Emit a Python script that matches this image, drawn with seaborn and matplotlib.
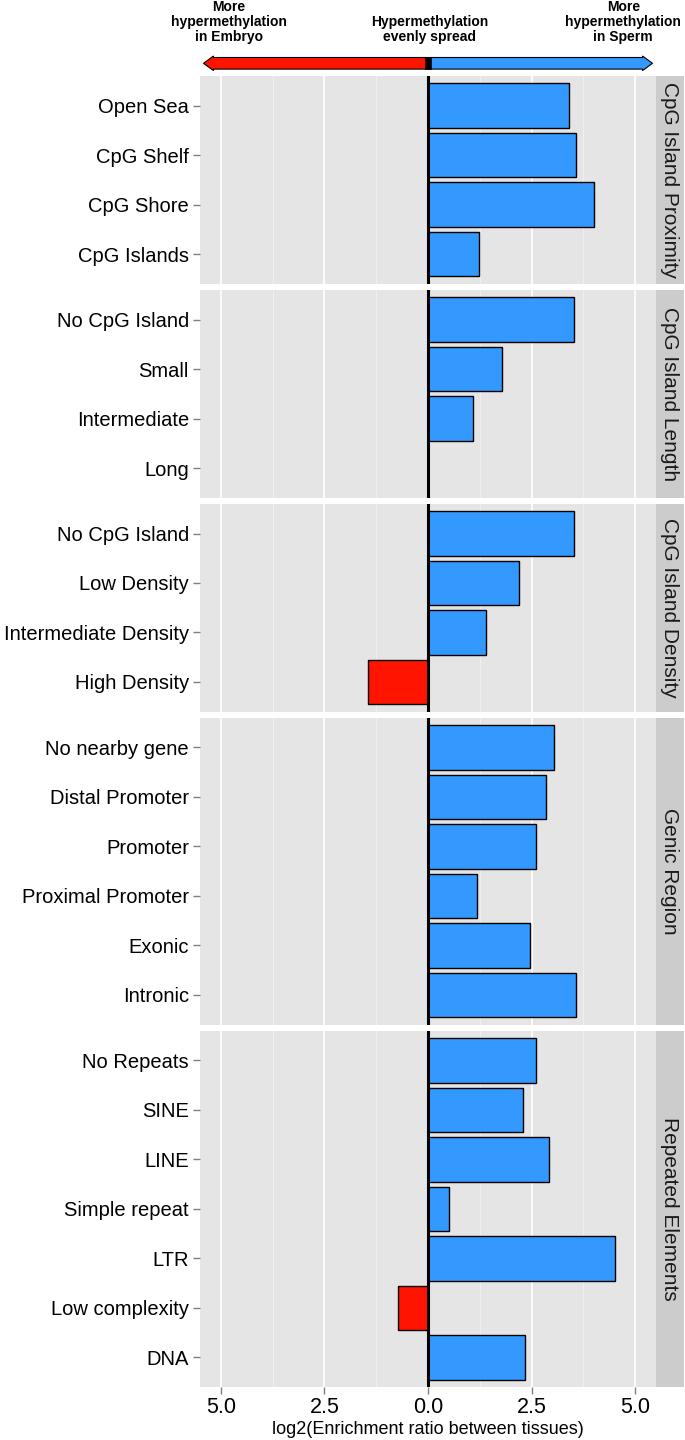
import numpy as np
import pandas as pd
import matplotlib
matplotlib.use("Agg")
import matplotlib.pyplot as plt
import seaborn as sns
from matplotlib.ticker import FuncFormatter, FixedLocator
from matplotlib.patches import Polygon, Rectangle

# ---------------- data ----------------
facet_names = ["CpG Island Proximity", "CpG Island Length", "CpG Island Density",
               "Genic Region", "Repeated Elements"]
proximity_labels = ["Open Sea", "CpG Shelf", "CpG Shore", "CpG Islands"]
proximity_values = [3.41, 3.56, 4.00, 1.22]
length_labels = ["No CpG Island", "Small", "Intermediate", "Long"]
length_values = [3.52, 1.78, 1.08, 0.0]
density_labels = ["No CpG Island", "Low Density", "Intermediate Density", "High Density"]
density_values = [3.52, 2.20, 1.39, -1.45]
genic_labels = ["No nearby gene", "Distal Promoter", "Promoter", "Proximal Promoter",
                "Exonic", "Intronic"]
genic_values = [3.04, 2.85, 2.60, 1.18, 2.47, 3.56]
repeat_labels = ["No Repeats", "SINE", "LINE", "Simple repeat", "LTR",
                 "Low complexity", "DNA"]
repeat_values = [2.61, 2.28, 2.91, 0.50, 4.50, -0.73, 2.33]
x_ticks = [-5.0, -2.5, 0.0, 2.5, 5.0]
x_title = "log2(Enrichment ratio between tissues)"
arrow_left_text = "More\nhypermethylation\nin Embryo"
arrow_mid_text = "Hypermethylation\nevenly spread"
arrow_right_text = "More\nhypermethylation\nin Sperm"

panels = [(proximity_labels, proximity_values), (length_labels, length_values),
          (density_labels, density_values), (genic_labels, genic_values),
          (repeat_labels, repeat_values)]

# ---------------- style ----------------
plt.rcParams['font.family'] = ['Liberation Sans', 'DejaVu Sans']
BLUE = "#3399FF"
RED = "#FF1400"
PANEL_BG = "#E5E5E5"
STRIP_BG = "#CCCCCC"

W, H = 685, 1440
fig = plt.figure(figsize=(W / 100, H / 100), dpi=100)


def px_axes(x0, y0, x1, y1):
    return fig.add_axes([x0 / W, 1 - y1 / H, (x1 - x0) / W, (y1 - y0) / H])


XL, XR = 200, 656
TOP, BOTTOM, GAP = 76, 1387, 6
n_total = sum(len(l) for l, _ in panels)
unit = (BOTTOM - TOP - GAP * (len(panels) - 1)) / (n_total + 0.2 * len(panels))

y = TOP
for i, ((labels, values), fname) in enumerate(zip(panels, facet_names)):
    n = len(labels)
    h = (n + 0.2) * unit
    ax = px_axes(XL, y, XR, y + h)
    df = pd.DataFrame({"label": labels, "value": values})
    df["dir"] = np.where(df["value"] < 0, "Embryo", "Sperm")
    sns.barplot(data=df, x="value", y="label", hue="dir", order=labels,
                hue_order=["Embryo", "Sperm"],
                palette={"Embryo": RED, "Sperm": BLUE}, dodge=False, width=0.9,
                saturation=1, edgecolor="black", linewidth=1.0, legend=False,
                orient="h", ax=ax)
    ax.set_facecolor(PANEL_BG)
    ax.set_xlim(-5.5, 5.5)
    ax.set_ylim(n - 1 + 0.6, -0.6)
    ax.xaxis.set_major_locator(FixedLocator(x_ticks))
    ax.xaxis.set_minor_locator(FixedLocator([-3.75, -1.25, 1.25, 3.75]))
    ax.set_axisbelow(True)
    ax.grid(False)
    ax.grid(which="major", axis="x", color="white", lw=1.2)
    ax.grid(which="minor", axis="x", color="#F2F2F2", lw=0.6)
    ax.axvline(0, color="black", lw=2.2, zorder=5)
    for s in ax.spines.values():
        s.set_visible(False)
    ax.set_xlabel("")
    ax.set_ylabel("")
    ax.tick_params(axis="y", which="both", length=5, width=1, color="#7F7F7F",
                   labelsize=14.5, pad=3, labelcolor="black")
    ax.tick_params(axis="x", which="minor", length=0)
    if i == len(panels) - 1:
        ax.tick_params(axis="x", which="major", length=5, width=1, color="#7F7F7F",
                       labelsize=15.5, pad=2, labelcolor="black")
        ax.xaxis.set_major_formatter(FuncFormatter(lambda v, p: f"{abs(v):.1f}"))
    else:
        ax.tick_params(axis="x", which="major", length=0, labelbottom=False)

    sax = px_axes(XR, y, 684, y + h)
    sax.set_facecolor(STRIP_BG)
    sax.set_xticks([])
    sax.set_yticks([])
    for s in sax.spines.values():
        s.set_visible(False)
    sax.text(0.5, 0.5, fname, rotation=-90, ha="center", va="center",
             fontsize=15, color="#1A1A1A", transform=sax.transAxes)
    y += h + GAP

fig.text(428 / W, 1 - 1430 / H, x_title, ha="center", va="center", fontsize=13)

# ---------------- top direction arrow ----------------
tax = px_axes(XL, 50, XR, 76)
tax.set_xlim(-5.5, 5.5)
tax.set_ylim(76, 50)
tax.axis("off")
upx = (XR - XL) / 11.0
tip = (652 - 427.5) / upx
head = 10 / upx
yc, hb, hh = 63.3, 5.8, 7.3
right = [(0, yc - hb), (tip - head, yc - hb), (tip - head, yc - hh), (tip, yc),
         (tip - head, yc + hh), (tip - head, yc + hb), (0, yc + hb)]
left = [(-x, yy) for x, yy in right]
tax.add_patch(Polygon(right, closed=True, facecolor=BLUE, edgecolor="black", lw=0.8,
                      clip_on=False))
tax.add_patch(Polygon(left, closed=True, facecolor=RED, edgecolor="black", lw=0.8,
                      clip_on=False))
tax.add_patch(Rectangle((-0.08, yc - hb), 0.16, 2 * hb, facecolor="black",
                        edgecolor="black", lw=0.5, clip_on=False))
tax.text(-4.8, 44.5, arrow_left_text, ha="center", va="bottom", fontsize=10,
         fontweight="bold", linespacing=1.1, clip_on=False)
tax.text(0.04, 44.5, arrow_mid_text, ha="center", va="bottom", fontsize=10,
         fontweight="bold", linespacing=1.1, clip_on=False)
tax.text(4.71, 44.5, arrow_right_text, ha="center", va="bottom", fontsize=10,
         fontweight="bold", linespacing=1.1, clip_on=False)

fig.savefig("out.png", dpi=100)
